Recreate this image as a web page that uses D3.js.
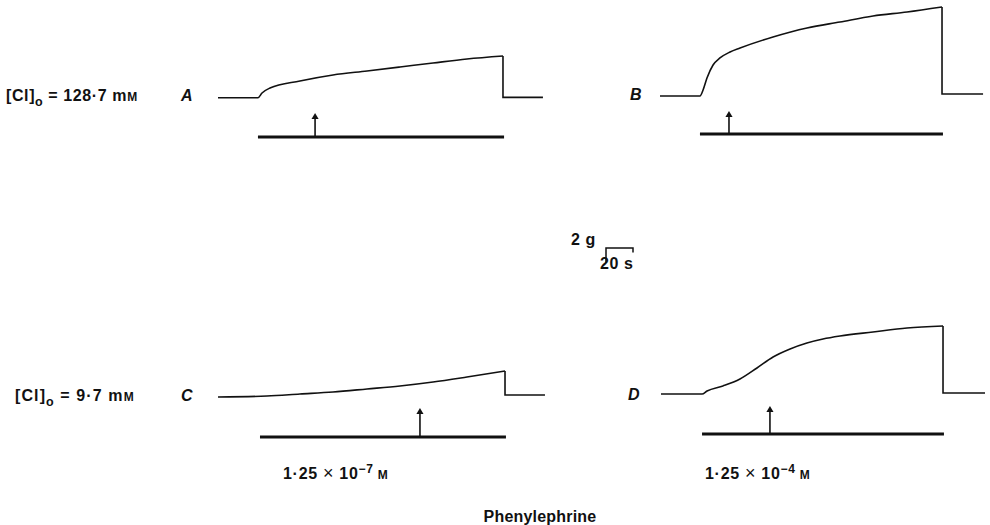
<!DOCTYPE html>
<html>
<head>
<meta charset="utf-8">
<script src="https://cdn.jsdelivr.net/npm/d3@7"></script>
<style>
  body { margin: 0; background: #fff; }
  text { font-family: "Liberation Sans", Arial, sans-serif; font-weight: bold; fill: #111; }
</style>
</head>
<body>
<div id="graph"></div>
<script>
// tension traces, time in s from start of each trace, tension in g above rest
var timeA = [0, 29.6, 32.6, 38.5, 60.7, 85.2, 110.4, 134.8, 159.3, 184.4, 211.1];
var forceA = [0, 0, 0.63, 1.29, 2.23, 3.03, 3.56, 4.09, 4.63, 5.16, 5.56];
var timeB = [0, 29.6, 31.9, 34.8, 39.3, 44.4, 51.9, 59.3, 83.7, 108.9, 133.3, 157.8, 183, 208.9];
var forceB = [0, 0, 0.8, 2.4, 4.13, 5.07, 5.87, 6.4, 7.87, 9.07, 9.87, 10.67, 11.2, 11.87];
var timeC = [0, 36.3, 60.7, 85.2, 110.4, 134.8, 159.3, 184.4, 212.6];
var forceC = [0, 0.13, 0.4, 0.67, 1.07, 1.47, 2, 2.67, 3.47];
var timeD = [0, 30.4, 34.1, 45.9, 58.5, 71.1, 83, 95.6, 108.1, 120, 132.6, 157, 182.2, 208.9];
var forceD = [0, 0, 0.4, 1.07, 2, 3.47, 4.93, 6, 6.8, 7.33, 7.73, 8.27, 8.8, 9.07];

var panelNames = ["A", "B", "C", "D"];
var endTime = [240.7, 239.3, 242.2, 240];   // end of recording after washout
var restAfter = [0.05, 0.27, 0.27, 0.13];  // tension after washout
var drugOn = [29.6, 29.6, 31.1, 30.4];
var drugOff = [211.9, 209.6, 213.3, 209.6];
var addTime = [71.9, 51.1, 149.6, 80.7];   // arrow: phenylephrine added

var clConc = ["128·7", "9·7"];
var pheExp = ["7", "4"];

var scaleBarTime = 20; // s
var scaleBarForce = 2; // g

var w = 990, h = 525;
var fs = 16; // label font size

var svg = d3.select("#graph").append("svg")
  .attr("width", w)
  .attr("height", h);

var x = d3.scaleLinear().domain([0, 20]).range([0, 27]);
var y = d3.scaleLinear().domain([0, 2]).range([0, -15]);

var traces = [
  { t: timeA, f: forceA, ox: 218, oy: 97.7, barDy: 39.3, arrowLen: 23 },
  { t: timeB, f: forceB, ox: 660, oy: 96, barDy: 38, arrowLen: 22 },
  { t: timeC, f: forceC, ox: 218, oy: 397, barDy: 40, arrowLen: 28 },
  { t: timeD, f: forceD, ox: 661, oy: 394, barDy: 40, arrowLen: 27 }
];

var rise = d3.line()
  .x(function(d) { return x(d[0]); })
  .y(function(d) { return y(d[1]); })
  .curve(d3.curveMonotoneX);

var step = d3.line()
  .x(function(d) { return x(d[0]); })
  .y(function(d) { return y(d[1]); });

traces.forEach(function(p, i) {
  var g = svg.append("g")
    .attr("transform", "translate(" + p.ox + "," + p.oy + ")");

  var pts = p.t.map(function(t, j) { return [t, p.f[j]]; });
  var last = pts[pts.length - 1];

  g.append("path")
    .attr("d", rise(pts))
    .attr("fill", "none")
    .attr("stroke", "#111")
    .attr("stroke-width", 1.6);

  g.append("path")
    .attr("d", step([last, [last[0], restAfter[i]], [endTime[i], restAfter[i]]]))
    .attr("fill", "none")
    .attr("stroke", "#111")
    .attr("stroke-width", 1.6);

  // drug bar
  g.append("line")
    .attr("x1", x(drugOn[i]))
    .attr("x2", x(drugOff[i]))
    .attr("y1", p.barDy)
    .attr("y2", p.barDy)
    .attr("stroke", "#111")
    .attr("stroke-width", 3.2);

  // arrow
  var ax = x(addTime[i]);
  g.append("line")
    .attr("x1", ax).attr("x2", ax)
    .attr("y1", p.barDy).attr("y2", p.barDy - p.arrowLen + 4)
    .attr("stroke", "#111")
    .attr("stroke-width", 1.6);
  g.append("path")
    .attr("d", d3.symbol(d3.symbolTriangle, 22)())
    .attr("transform", "translate(" + ax + "," + (p.barDy - p.arrowLen + 3) + ")")
    .attr("fill", "#111");
});

// panel letters
var letterPos = [[181, 101], [630, 100], [181, 401], [628, 400]];
panelNames.forEach(function(n, i) {
  svg.append("text")
    .attr("x", letterPos[i][0])
    .attr("y", letterPos[i][1])
    .attr("font-size", 16)
    .attr("font-style", "italic")
    .text(n);
});

// [Cl]o labels
function clLabel(xp, yp, conc, ls) {
  var t = svg.append("text")
    .attr("x", xp).attr("y", yp)
    .attr("font-size", fs)
    .attr("letter-spacing", ls);
  t.append("tspan").text("[Cl]");
  t.append("tspan").attr("dy", 5).attr("font-size", 12.5).text("o");
  t.append("tspan").attr("dy", -5).text(" = " + conc + " m");
  t.append("tspan").attr("font-size", 12).text("M");
}
clLabel(6, 101, clConc[0], 0.6);
clLabel(15, 401, clConc[1], 1.1);

// scale bar
var sb = svg.append("g").attr("transform", "translate(606,248)");
sb.append("path")
  .attr("d", step([[0, -scaleBarForce], [0, 0], [scaleBarTime, 0], [scaleBarTime, -0.6]]))
  .attr("fill", "none")
  .attr("stroke", "#111")
  .attr("stroke-width", 1.5);
svg.append("text").attr("x", 571).attr("y", 245).attr("font-size", fs)
  .attr("letter-spacing", 0.6).text(scaleBarForce + " g");
svg.append("text").attr("x", 600).attr("y", 269).attr("font-size", fs)
  .attr("letter-spacing", 0.6).text(scaleBarTime + " s");

// concentrations
function concLabel(xp, yp, exp) {
  var t = svg.append("text").attr("x", xp).attr("y", yp)
    .attr("font-size", fs).attr("letter-spacing", 0.7);
  t.append("tspan").text("1·25 ");
  t.append("tspan").attr("font-weight", "normal").attr("font-size", 18).text("×");
  t.append("tspan").text(" 10");
  t.append("tspan").attr("dy", -6).attr("font-size", 12).text("−" + exp);
  t.append("tspan").attr("dy", 6).attr("font-size", 12).text("  M");
}
concLabel(283, 479, pheExp[0]);
concLabel(705, 479, pheExp[1]);

svg.append("text")
  .attr("x", 540).attr("y", 522)
  .attr("text-anchor", "middle")
  .attr("font-size", fs)
  .attr("letter-spacing", 0.2)
  .text("Phenylephrine");
</script>
</body>
</html>
